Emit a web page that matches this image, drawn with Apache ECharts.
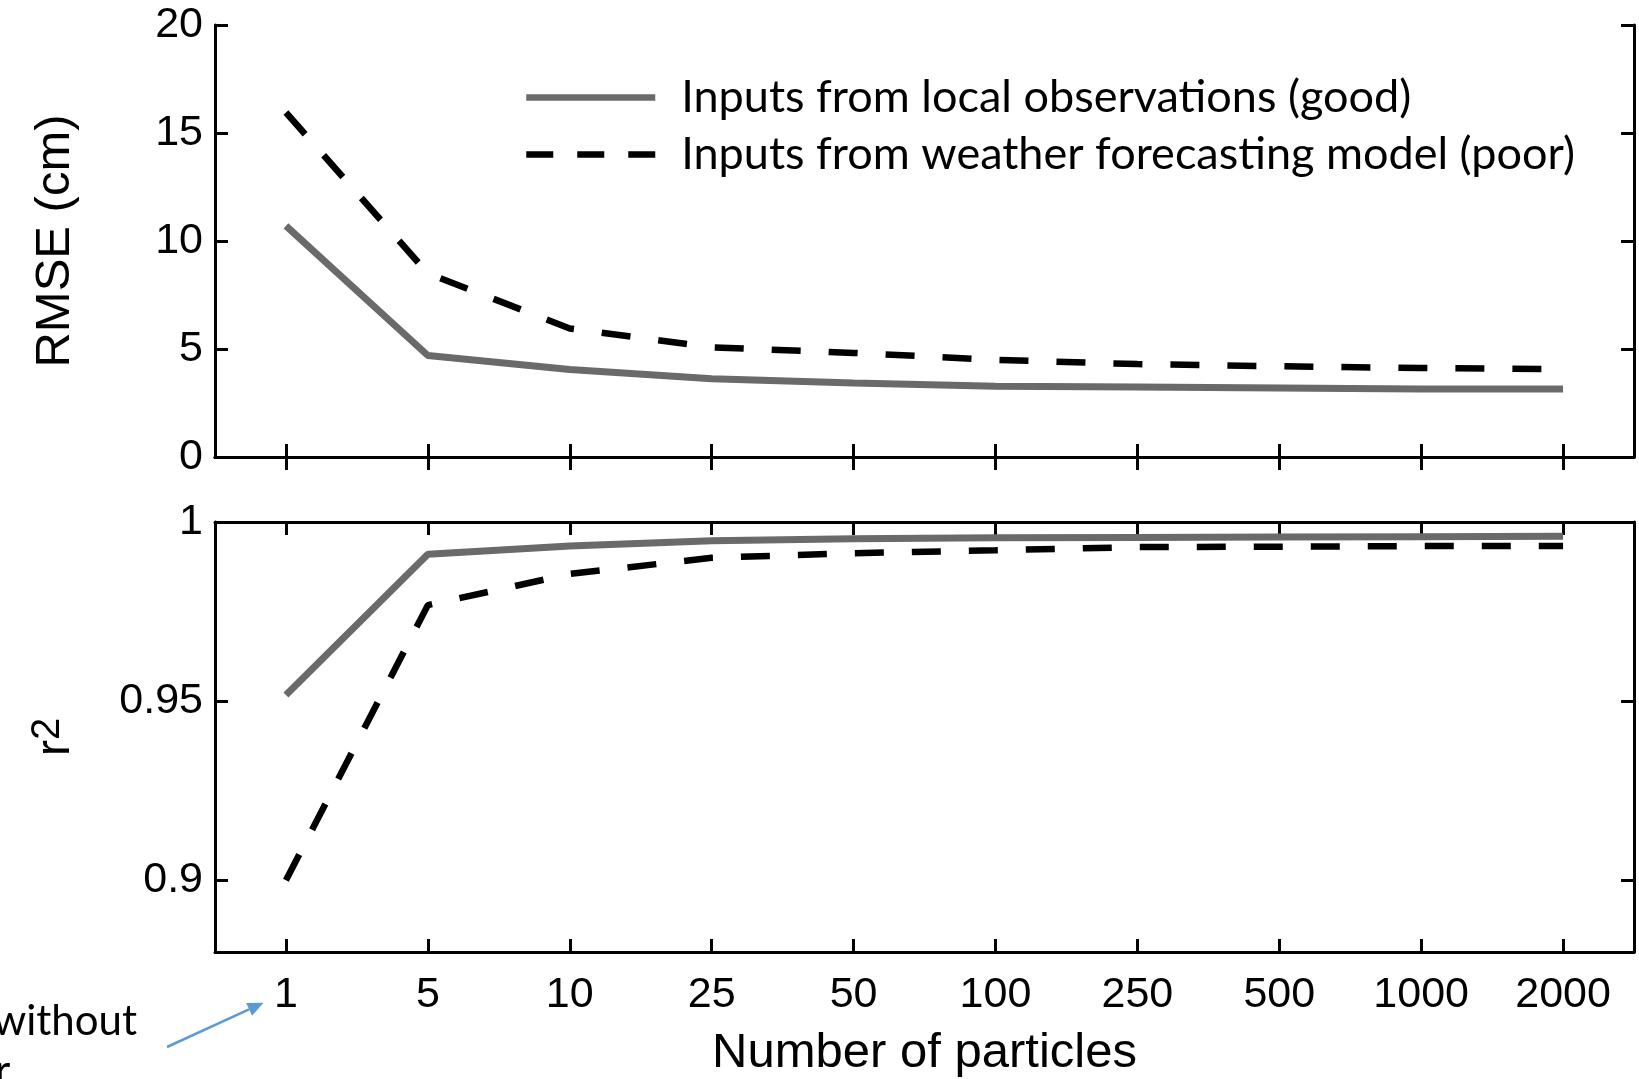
<!DOCTYPE html>
<html>
<head>
<meta charset="utf-8">
<title>RMSE and r2 vs number of particles</title>
<script src="https://cdn.jsdelivr.net/npm/echarts@6.0.0/dist/echarts.min.js"></script>
<style>
  html, body { margin: 0; padding: 0; background: #fff; }
  #chart { width: 1639px; height: 1079px; }
</style>
</head>
<body>
<div id="chart"></div>
<script>
// data
const categories = ['1', '5', '10', '25', '50', '100', '250', '500', '1000', '2000'];
const rmseGood = [10.7, 4.7, 4.05, 3.62, 3.43, 3.28, 3.24, 3.2, 3.15, 3.15];
const rmsePoor = [15.95, 8.5, 5.95, 5.08, 4.82, 4.5, 4.3, 4.2, 4.12, 4.07];
const r2Good = [0.9517, 0.991, 0.9933, 0.9948, 0.9953, 0.9956, 0.9957, 0.9958, 0.9959, 0.996];
const r2Poor = [0.9, 0.9768, 0.9855, 0.990, 0.9913, 0.9921, 0.993, 0.9931, 0.9933, 0.9933];
const rmseTicks = [0, 5, 10, 15, 20];
const r2Ticks = [0.9, 0.95, 1];

const NAME_GOOD = 'Inputs from local observations (good)';
const NAME_POOR = 'Inputs from weather forecasting model (poor)';
const GREY = '#6a6a6a';
const ARIAL = '"Liberation Sans", Arial, sans-serif';
const SLIDE_FONT = 'Lato, "Open Sans", sans-serif';

const tick = { show: true, inside: true, length: 13, alignWithLabel: true, lineStyle: { color: '#000', width: 3 } };
const axisLine = { show: true, lineStyle: { color: '#000', width: 3 } };
const tickLabel = { color: '#000', fontFamily: ARIAL, fontSize: 43 };
const nameStyle = { color: '#000', fontFamily: ARIAL, fontSize: 49 };

const xAxisFor = (gridIndex, position, withLabels) => ({
  type: 'category',
  gridIndex,
  position,
  data: categories,
  boundaryGap: true,
  axisLine,
  axisTick: tick,
  axisLabel: withLabels ? { ...tickLabel, margin: 22, interval: 0 } : { show: false },
  splitLine: { show: false }
});

const yAxisFor = (gridIndex, position, range, ticks, name, nameTextStyle) => ({
  type: 'value',
  gridIndex,
  position,
  min: range[0],
  max: range[1],
  axisLine,
  axisTick: { ...tick, customValues: ticks },
  axisLabel: name ? { ...tickLabel, margin: 12, customValues: ticks } : { show: false },
  splitLine: { show: false },
  name: name || '',
  nameLocation: 'middle',
  nameRotate: 90,
  nameGap: 135,
  nameTextStyle: nameTextStyle || nameStyle
});

const lineSeries = (name, data, idx, dashed) => ({
  name,
  type: 'line',
  xAxisIndex: idx,
  yAxisIndex: idx,
  data,
  symbol: 'none',
  silent: true,
  lineStyle: dashed
    ? { color: '#000', width: 6.5, type: [29, 28], cap: 'butt' }
    : { color: GREY, width: 7, cap: 'butt' },
  itemStyle: { color: dashed ? '#000' : GREY }
});

// r with a raised 2, drawn as rich text so it stays real text
const r2NameStyle = {
  ...nameStyle,
  rich: {
    r: { fontFamily: ARIAL, fontSize: 49, color: '#000', verticalAlign: 'bottom' },
    s: { fontFamily: ARIAL, fontSize: 40, color: '#000', verticalAlign: 'bottom', padding: [0, 0, 12, 0] }
  }
};

const chart = echarts.init(document.getElementById('chart'), null, { renderer: 'canvas' });

chart.setOption({
  animation: false,
  backgroundColor: '#fff',
  grid: [
    { left: 215, top: 25, width: 1419, height: 432 },
    { left: 215, top: 522, width: 1419, height: 431 }
  ],
  legend: {
    orient: 'vertical',
    left: 523,
    top: 75,
    padding: 0,
    itemWidth: 129,
    itemHeight: 44,
    itemGap: 12,
    selectedMode: false,
    itemStyle: { opacity: 0 },
    textStyle: { color: '#000', fontFamily: SLIDE_FONT, fontSize: 45, lineHeight: 44, padding: [0, 0, 0, 21] },
    data: [
      { name: NAME_GOOD, itemStyle: { opacity: 0 }, lineStyle: { color: GREY, width: 6.5, type: 'solid' } },
      { name: NAME_POOR, itemStyle: { opacity: 0 }, lineStyle: { color: '#000', width: 6.5, type: [27, 24] } }
    ]
  },
  xAxis: [
    xAxisFor(0, 'bottom', false),
    xAxisFor(0, 'top', false),
    {
      ...xAxisFor(1, 'bottom', true),
      name: 'Number of particles',
      nameLocation: 'middle',
      nameGap: 77,
      nameTextStyle: nameStyle
    },
    xAxisFor(1, 'top', false)
  ],
  yAxis: [
    yAxisFor(0, 'left', [0, 20], rmseTicks, 'RMSE (cm)'),
    yAxisFor(0, 'right', [0, 20], rmseTicks, null),
    yAxisFor(1, 'left', [0.88, 1], r2Ticks, '{r|r}{s|2}', r2NameStyle),
    yAxisFor(1, 'right', [0.88, 1], r2Ticks, null)
  ],
  series: [
    lineSeries(NAME_GOOD, rmseGood, 0, false),
    lineSeries(NAME_POOR, rmsePoor, 0, true),
    lineSeries(NAME_GOOD, r2Good, 2, false),
    lineSeries(NAME_POOR, r2Poor, 2, true)
  ],
  graphic: [
    // slide annotation that is cut off at the left edge
    {
      type: 'text',
      right: 1639 - 137,
      top: 1000,
      style: { text: 'without', fill: '#000', font: '42px ' + SLIDE_FONT }
    },
    {
      type: 'text',
      left: -5,
      top: 1050,
      style: { text: 'r', fill: '#000', font: '42px ' + SLIDE_FONT }
    },
    {
      type: 'line',
      shape: { x1: 167, y1: 1047, x2: 249, y2: 1009.4 },
      style: { stroke: '#5b9bd5', lineWidth: 2.5 }
    },
    {
      type: 'polygon',
      shape: { points: [[263.6, 1002.7], [252, 1015.8], [246.2, 1003]] },
      style: { fill: '#5b9bd5' }
    }
  ]
});
</script>
</body>
</html>
